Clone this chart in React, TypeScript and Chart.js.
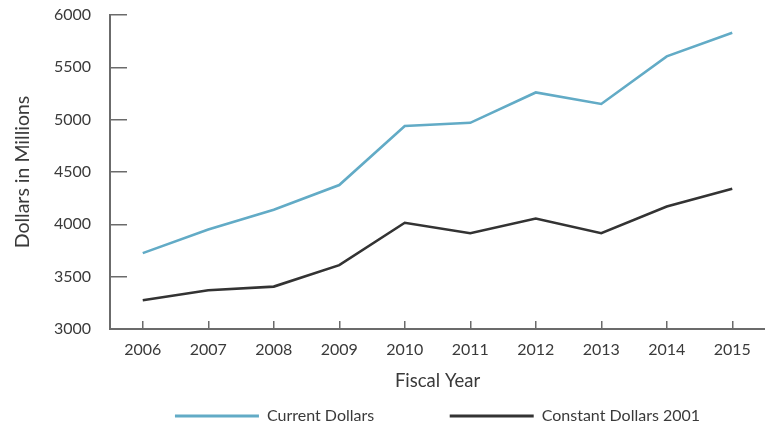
import React, { useEffect, useRef } from "react";
import { Chart, registerables } from "chart.js";

Chart.register(...registerables);

const fiscalYears = ["2006", "2007", "2008", "2009", "2010", "2011", "2012", "2013", "2014", "2015"];
const currentDollars = [3725, 3950, 4140, 4375, 4940, 4970, 5260, 5150, 5605, 5830];
const constantDollars2001 = [3275, 3370, 3405, 3610, 4015, 3915, 4055, 3915, 4170, 4340];
const seriesNames = ["Current Dollars", "Constant Dollars 2001"];
const seriesColors = ["#62abc6", "#333333"];
const yMin = 3000;
const yMax = 6000;
const yStep = 500;
const yTitle = "Dollars in Millions";
const xTitle = "Fiscal Year";

const FONT = "Lato";
const TEXT = "#3a3a3a";
const AXIS = "#6b6b6b";

export default function App() {
  const ref = useRef<HTMLCanvasElement | null>(null);

  useEffect(() => {
    document.body.style.margin = "0";
    const canvas = ref.current!;
    const chart = new Chart(canvas, {
      type: "line",
      data: {
        labels: fiscalYears,
        datasets: [
          {
            label: seriesNames[0],
            data: currentDollars,
            borderColor: seriesColors[0],
            backgroundColor: seriesColors[0],
            borderWidth: 2.6,
            pointRadius: 0,
            tension: 0,
            fill: false,
          },
          {
            label: seriesNames[1],
            data: constantDollars2001,
            borderColor: seriesColors[1],
            backgroundColor: seriesColors[1],
            borderWidth: 2.6,
            pointRadius: 0,
            tension: 0,
            fill: false,
          },
        ],
      },
      options: {
        animation: false,
        responsive: false,
        maintainAspectRatio: false,
        layout: { padding: { top: 15, right: 0, bottom: -8, left: 0 } },
        plugins: {
          tooltip: { enabled: false },
          legend: {
            position: "bottom",
            fullSize: false,
            labels: {
              boxWidth: 84,
              boxHeight: 3,
              padding: 10,
              color: TEXT,
              font: { family: FONT, size: 16 },
              generateLabels: (c: any) => {
                const items = Chart.defaults.plugins.legend.labels.generateLabels(c);
                const ctx = c.ctx;
                ctx.save();
                ctx.font = `16px ${FONT}`;
                const sp = ctx.measureText(" ").width || 4;
                ctx.restore();
                return items.map((it: any, i: number) => {
                  let text = it.text;
                  if (i === 0) {
                    const n = Math.round(65 / sp);
                    text = text + " ".repeat(n);
                  }
                  return { ...it, text, lineWidth: 0, fillStyle: seriesColors[i], strokeStyle: seriesColors[i] };
                });
              },
            },
          },
        },
        scales: {
          x: {
            type: "category",
            offset: true,
            afterFit: (s: any) => {
              s.height = 69;
              s.paddingLeft = 0;
              s.paddingRight = 0;
            },
            grid: {
              display: true,
              drawOnChartArea: false,
              drawTicks: true,
              tickLength: -8,
              offset: false,
              color: AXIS,
              lineWidth: 1.5,
            },
            border: { display: true, color: AXIS, width: 2 },
            ticks: {
              color: TEXT,
              padding: 19,
              maxRotation: 0,
              autoSkip: false,
              font: { family: FONT, size: 16 },
            },
            title: {
              display: true,
              text: xTitle,
              color: TEXT,
              font: { family: FONT, size: 18.5 },
              padding: { top: 0, bottom: 6 },
            },
          },
          y: {
            min: yMin,
            max: yMax,
            afterFit: (s: any) => {
              s.width = 110;
              s.paddingTop = 10;
              s.paddingBottom = 10;
            },
            grid: {
              display: true,
              drawOnChartArea: false,
              drawTicks: true,
              tickLength: -17,
              color: AXIS,
              lineWidth: 1.5,
            },
            border: { display: true, color: AXIS, width: 2 },
            ticks: {
              stepSize: yStep,
              color: TEXT,
              padding: 36,
              font: { family: FONT, size: 16 },
              callback: (v: any) => String(v),
            },
            title: {
              display: true,
              text: yTitle,
              color: TEXT,
              font: { family: FONT, size: 19.5 },
              padding: { top: 11, bottom: 0 },
            },
          },
        },
      },
    });
    return () => chart.destroy();
  }, []);

  return (
    <div style={{ position: "relative", width: 765, height: 426, background: "#fff" }}>
      <canvas ref={ref} width={765} height={426} style={{ display: "block", width: 765, height: 426 }} />
    </div>
  );
}
